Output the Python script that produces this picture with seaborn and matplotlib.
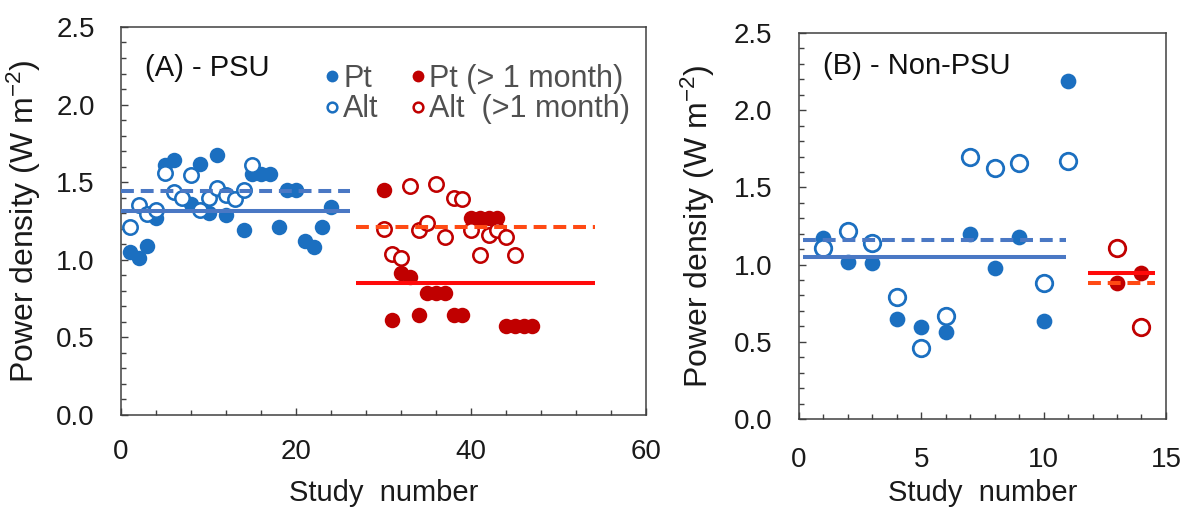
import numpy as np
import pandas as pd
import matplotlib
matplotlib.use("Agg")
import matplotlib.pyplot as plt
from matplotlib.lines import Line2D
from matplotlib.ticker import MultipleLocator, FormatStrFormatter
import seaborn as sns

# ---------------- data ----------------
# (A) PSU studies
psu_pt_study = [1, 2, 3, 4, 5, 6, 8, 9, 10, 11, 12, 14, 15, 16, 17, 18, 19, 20, 21, 22, 23, 24]
psu_pt_power = [1.05, 1.01, 1.09, 1.27, 1.61, 1.64, 1.36, 1.62, 1.30, 1.675, 1.29, 1.19,
                1.55, 1.55, 1.55, 1.21, 1.45, 1.45, 1.12, 1.085, 1.21, 1.34]
psu_alt_study = [1, 2, 3, 4, 5, 6, 7, 8, 9, 10, 11, 12, 13, 14, 15]
psu_alt_power = [1.21, 1.35, 1.295, 1.32, 1.56, 1.435, 1.40, 1.545, 1.32, 1.40, 1.46,
                 1.42, 1.39, 1.45, 1.61]
psu_pt_long_study = [30, 31, 32, 33, 34, 35, 36, 37, 38, 39, 40, 41, 42, 43, 44, 45, 46, 47]
psu_pt_long_power = [1.45, 0.61, 0.913, 0.89, 0.644, 0.784, 0.784, 0.784, 0.644, 0.644,
                     1.267, 1.267, 1.267, 1.267, 0.575, 0.575, 0.575, 0.575]
psu_alt_long_study = [30, 31, 32, 33, 34, 35, 36, 37, 38, 39, 40, 41, 42, 43, 44, 45]
psu_alt_long_power = [1.20, 1.037, 1.01, 1.475, 1.19, 1.235, 1.49, 1.145, 1.40, 1.39,
                      1.19, 1.03, 1.16, 1.19, 1.145, 1.03]
# average levels and the study ranges they cover
psu_mean_pt, psu_mean_alt = 1.316, 1.445
psu_mean_pt_long, psu_mean_alt_long = 0.849, 1.213
psu_span_short = [0.0, 26.2]
psu_span_long = [26.8, 54.2]

# (B) Non-PSU studies
non_study = [1, 2, 3, 4, 5, 6, 7, 8, 9, 10, 11]
non_pt_power = [1.17, 1.02, 1.01, 0.645, 0.598, 0.565, 1.20, 0.98, 1.18, 0.637, 2.19]
non_alt_power = [1.11, 1.218, 1.14, 0.79, 0.46, 0.67, 1.70, 1.624, 1.656, 0.883, 1.67]
non_long_study = [13, 14]
non_pt_long_power = [0.879, 0.944]
non_alt_long_power = [1.106, 0.594]
non_mean_pt, non_mean_alt = 1.05, 1.16
non_mean_pt_long, non_mean_alt_long = 0.947, 0.879
non_span_short = [0.15, 10.9]
non_span_long = [11.8, 14.55]

legend_labels = ["Pt", "Alt", "Pt (> 1 month)", "Alt  (>1 month)"]

# ---------------- style ----------------
BLUE = "#1b6fc0"
BLUE_LINE = "#4a78c4"
DARK_RED = "#c00000"
RED_LINE = "#ff0a0a"
ORANGE_LINE = "#ff4a14"
FRAME = "#404040"
INK = "#1a1a1a"

sns.set_theme(style="white")
plt.rcParams["font.family"] = ["Liberation Sans", "DejaVu Sans"]
plt.rcParams["mathtext.default"] = "regular"

fig = plt.figure(figsize=(11.9, 5.08), dpi=100)
axA = fig.add_axes([0.1017, 0.1831, 0.4412, 0.7638])
axB = fig.add_axes([0.6714, 0.1752, 0.3084, 0.7598])


def draw_points(ax, x, y, color, filled, size, lw):
    df = pd.DataFrame({"study": x, "power": y})
    if filled:
        sns.scatterplot(data=df, x="study", y="power", ax=ax, s=size, marker="o",
                        color=color, edgecolor=color, linewidth=0, zorder=3)
    else:
        sns.scatterplot(data=df, x="study", y="power", ax=ax, s=size, marker="o",
                        facecolor="white", edgecolor=color, linewidth=lw, zorder=4)


def draw_mean(ax, span, level, color, dashed):
    df = pd.DataFrame({"study": span, "power": [level] * len(span)})
    sns.lineplot(data=df, x="study", y="power", ax=ax, color=color,
                 linewidth=2.9, zorder=5)
    ln = ax.get_lines()[-1]
    ln.set_solid_capstyle("butt")
    if dashed:
        ln.set_dashes([3.2, 1.7])
        ln.set_dash_capstyle("butt")


# panel A
draw_points(axA, psu_pt_study, psu_pt_power, BLUE, True, 124, 0)
draw_points(axA, psu_pt_long_study, psu_pt_long_power, DARK_RED, True, 124, 0)
draw_points(axA, psu_alt_study, psu_alt_power, BLUE, False, 107, 1.85)
draw_points(axA, psu_alt_long_study, psu_alt_long_power, DARK_RED, False, 107, 1.85)
draw_mean(axA, psu_span_short, psu_mean_alt, BLUE_LINE, True)
draw_mean(axA, psu_span_short, psu_mean_pt, BLUE_LINE, False)
draw_mean(axA, psu_span_long, psu_mean_alt_long, ORANGE_LINE, True)
draw_mean(axA, psu_span_long, psu_mean_pt_long, RED_LINE, False)

# panel B
draw_points(axB, non_study, non_pt_power, BLUE, True, 128, 0)
draw_points(axB, non_long_study, non_pt_long_power, DARK_RED, True, 128, 0)
draw_points(axB, non_study, non_alt_power, BLUE, False, 141, 2.0)
draw_points(axB, non_long_study, non_alt_long_power, DARK_RED, False, 141, 2.0)
draw_mean(axB, non_span_short, non_mean_alt, BLUE_LINE, True)
draw_mean(axB, non_span_short, non_mean_pt, BLUE_LINE, False)
draw_mean(axB, non_span_long, non_mean_alt_long, ORANGE_LINE, True)
draw_mean(axB, non_span_long, non_mean_pt_long, RED_LINE, False)

axA.set_xlim(0, 60)
axB.set_xlim(0, 15)
axA.xaxis.set_major_locator(MultipleLocator(20))
axA.xaxis.set_minor_locator(MultipleLocator(4))
axB.xaxis.set_major_locator(MultipleLocator(5))
axB.xaxis.set_minor_locator(MultipleLocator(1))

for ax, xpad, xlab_y, ylab_x in [(axA, 17, -0.165, -0.148), (axB, 20, -0.155, -0.224)]:
    ax.set_ylim(0, 2.5)
    ax.yaxis.set_major_locator(MultipleLocator(0.5))
    ax.yaxis.set_minor_locator(MultipleLocator(0.1))
    ax.yaxis.set_major_formatter(FormatStrFormatter("%.1f"))
    for sp in ax.spines.values():
        sp.set_visible(True)
        sp.set_color(FRAME)
        sp.set_linewidth(1.1)
    ax.tick_params(axis="both", which="both", direction="in", color=FRAME,
                   width=1.0, labelsize=20, labelcolor=INK,
                   left=True, bottom=True, right=False, top=False)
    ax.tick_params(axis="both", which="major", length=5)
    ax.tick_params(axis="both", which="minor", length=3.5)
    ax.tick_params(axis="x", which="major", pad=xpad)
    ax.tick_params(axis="y", which="major", pad=19)
    ax.set_xlabel("Study  number", fontsize=21, color=INK)
    ax.set_ylabel("Power density (W m$^{-2}$)", fontsize=23, color=INK)
    ax.xaxis.set_label_coords(0.5, xlab_y)
    ax.yaxis.set_label_coords(ylab_x, 0.5)
    ax.set_facecolor("white")

axA.text(0.046, 0.895, "(A) - PSU", transform=axA.transAxes, fontsize=21,
         va="center", ha="left", color="#111111")
axB.text(0.065, 0.915, "(B) - Non-PSU", transform=axB.transAxes, fontsize=21,
         va="center", ha="left", color="#111111")

handles = [
    Line2D([], [], linestyle="none", marker="o", markersize=8.5, color=BLUE,
           markeredgecolor=BLUE, markeredgewidth=0),
    Line2D([], [], linestyle="none", marker="o", markersize=7.0, markerfacecolor="white",
           markeredgecolor=BLUE, markeredgewidth=1.8),
    Line2D([], [], linestyle="none", marker="o", markersize=8.5, color=DARK_RED,
           markeredgecolor=DARK_RED, markeredgewidth=0),
    Line2D([], [], linestyle="none", marker="o", markersize=7.0, markerfacecolor="white",
           markeredgecolor=DARK_RED, markeredgewidth=1.8),
]
axA.legend(handles, legend_labels, ncol=2, loc="upper left",
           bbox_to_anchor=(0.388, 0.905), frameon=False, fontsize=22,
           labelcolor="#505050", handlelength=0.5, handletextpad=0.1,
           columnspacing=1.05, labelspacing=0.02, borderpad=0, borderaxespad=0)

fig.savefig("out.png", dpi=100, facecolor="white")
